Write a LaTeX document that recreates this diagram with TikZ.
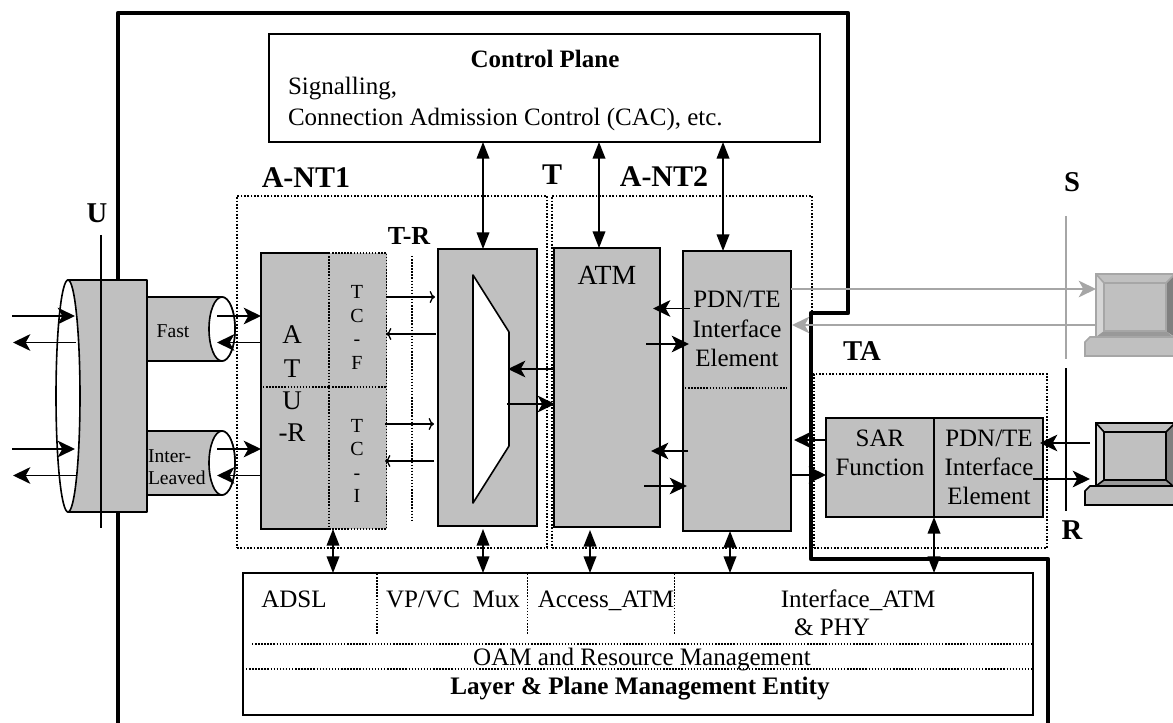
\documentclass[tikz,border=0pt]{standalone}
\usepackage{fontspec}
\setmainfont{Liberation Serif}
\usetikzlibrary{arrows.meta,shapes.geometric}
\definecolor{fillg}{HTML}{C0C0C0}
\definecolor{lineg}{HTML}{A6A6A6}
\newcommand{\pxbox}[6]{\node[#6,anchor=north west,minimum width={(#4-#2)*0.75pt},minimum height={(#5-#3)*0.75pt}] (#1) at (#2,#3) {};}
\newcommand{\fpx}[1]{\fontsize{#1}{#1}\selectfont}
\tikzset{
  base box/.style={inner sep=0pt,outer sep=0pt,line width=1.2pt},
  graybox/.style={base box,draw=black,fill=fillg},
  grayfill/.style={base box,fill=fillg},
  whitebox/.style={base box,draw=black,fill=white},
  dotbox/.style={base box,draw=black,line width=1pt,dash pattern=on 1.2pt off 1.3pt},
  dotline/.style={draw=black,line width=0.9pt,dash pattern=on 1.1pt off 1.2pt},
  thickline/.style={line width=3.2pt,line join=round,line cap=round},
  thin arrow/.style={line width=1.3pt,-{Stealth[length=13pt,width=12.5pt,inset=3.5pt]}},
  small arrow/.style={line width=1.0pt,-{To[length=4pt,width=9pt]}},
  both arrow/.style={line width=1.2pt,{Triangle[length=12.5pt,width=9.5pt]}-{Triangle[length=12.5pt,width=9.5pt]}},
  label/.style={anchor=base,inner sep=0pt,outer sep=0pt,text=black},
  cyl/.style={draw=black,line width=1.2pt,fill=fillg,line join=round},
  ell/.style={draw=black,line width=1.2pt,fill=white},
}
\begin{document}
\begin{tikzpicture}[x=0.75pt,y=-0.75pt]
\useasboundingbox (0,0) rectangle (1173,723);
\clip (0,0) rectangle (1173,723);

% dotted regions
\pxbox{antone}{237}{196}{547}{548}{dotbox}
\pxbox{anttwo}{552}{196}{812}{548}{dotbox}
\pxbox{tabox}{814}{374}{1047}{548}{dotbox}

% outer boundary
\draw[thickline] (118,730) -- (118,13) -- (848,13) -- (848,313) -- (811,313) -- (811,559) -- (1048,559) -- (1048,730);

% control and management
\pxbox{ctrl}{269}{34}{820}{142}{whitebox}
\pxbox{mgmt}{243}{573}{1033}{715}{whitebox}
\coordinate (mv1t) at (377,574); \coordinate (mv1b) at (377,635);
\coordinate (mv2t) at (527.5,574); \coordinate (mv2b) at (527.5,635);
\coordinate (mv3t) at (674.5,574); \coordinate (mv3b) at (674.5,635);
\coordinate (mh1l) at (252,644); \coordinate (mh1r) at (1032,644);
\coordinate (mh2l) at (246,669); \coordinate (mh2r) at (1032,669);
\draw[dotline] (mv1t) -- (mv1b) (mv2t) -- (mv2b) (mv3t) -- (mv3b) (mh1l) -- (mh1r) (mh2l) -- (mh2r);

% big cylinder and feeders
\draw[cyl] (68,280) -- (147,280) -- (147,512) -- (68,512) -- cycle;
\node[ell,ellipse,inner sep=0pt,minimum width=18pt,minimum height=174pt] (bigend) at (68,396) {};
\draw[cyl] (147,297) -- (222,297) arc[start angle=-90,end angle=90,x radius=13,y radius=32] -- (147,361) -- cycle;
\node[ell,ellipse,inner sep=0pt,minimum width=19.5pt,minimum height=48pt] (fastend) at (222,329) {};
\draw[cyl] (147,431) -- (222,431) arc[start angle=-90,end angle=90,x radius=13,y radius=32] -- (147,495) -- cycle;
\node[ell,ellipse,inner sep=0pt,minimum width=19.5pt,minimum height=48pt] (intend) at (222,463) {};
\coordinate (ut) at (101,235); \coordinate (ub) at (101,528);
\draw[line width=0.9pt] (ut) -- (ub);

% functional blocks
\pxbox{atur}{261}{253}{386.5}{529}{grayfill}
\coordinate (av1) at (329,253); \coordinate (av2) at (329,529);
\coordinate (ah1) at (263,387); \coordinate (ah2) at (386,387);
\coordinate (ar1) at (386.5,253); \coordinate (ar2) at (386.5,529);
\draw[line width=1.2pt] (av1) -- (atur.north west) -- (atur.south west) -- (av2);
\draw[dotline,line width=1.3pt] (av1) -- (av2);
\draw[dotline] (ah1) -- (av1 |- ah1);
\draw[dotline,line width=1.3pt] (av1 |- ah1) -- (ah2);
\draw[dotline,line width=1.3pt] (av1) -- (ar1) -- (ar2) -- (av2);
\coordinate (trt) at (412,256); \coordinate (trb) at (412,520);
\draw[dotline] (trt) -- (trb);
\pxbox{mux}{438}{249}{537}{526}{graybox}
\draw[draw=black,fill=white,line width=1.2pt,line join=round] (473,275) -- (509,332) -- (509,446) -- (473,503) -- cycle;
\pxbox{atm}{554}{248}{660}{527}{graybox}
\pxbox{pdn}{683}{251}{791}{531}{graybox}
\coordinate (pl) at (685,388); \coordinate (pr) at (787,388);
\draw[dotline] (pl) -- (pr);
\pxbox{sar}{826}{418}{1043}{517}{graybox}
\coordinate (st) at (934,418); \coordinate (sb) at (934,517);
\draw[line width=2.2pt] (st) -- (sb);

% interface lines
\coordinate (slt) at (1066,216); \coordinate (slb) at (1066,359);
\coordinate (rlt) at (1066,368); \coordinate (rlb) at (1066,511);
\draw[lineg,line width=1.3pt] (slt) -- (slb);
\draw[line width=1.3pt] (rlt) -- (rlb);

% gray computer
\begin{scope}[line width=1.2pt,draw=lineg]
\fill[fillg] (1096,274) rectangle (1185,337);
\fill[white!84!black] (1096,274) -- (1104,283) -- (1104,331) -- (1096,337) -- cycle;
\fill[black!40] (1096,337) -- (1104,331) -- (1166,331) -- (1173,337) -- cycle;
\fill[black!50] (1166,283) -- (1175,274) -- (1175,337) -- (1166,331) -- cycle;
\draw (1096,337) -- (1096,274) -- (1185,274);
\draw (1104,283) rectangle (1166,331);
\draw (1096,274) -- (1104,283);
\draw (1166,283) -- (1175,274);
\path[draw,fill=fillg] (1085,356) -- (1085,342) -- (1090,337) -- (1185,337) -- (1185,356) -- cycle;
\coordinate (gcomp) at (1096,289);
\coordinate (gcompb) at (1096,325);
\end{scope}

% black computer
\begin{scope}[line width=1.2pt,draw=black]
\fill[fillg] (1096,423) rectangle (1185,486);
\fill[white!84!black] (1096,423) -- (1104,432) -- (1104,480) -- (1096,486) -- cycle;
\fill[black!40] (1096,486) -- (1104,480) -- (1166,480) -- (1173,486) -- cycle;
\fill[black!50] (1166,432) -- (1175,423) -- (1175,486) -- (1166,480) -- cycle;
\draw (1096,486) -- (1096,423) -- (1185,423);
\draw (1104,432) rectangle (1166,480);
\draw (1096,423) -- (1104,432);
\draw (1166,432) -- (1175,423);
\draw (1096,486) -- (1104,480);
\draw (1173,486) -- (1166,480);
\path[draw,fill=fillg] (1085,505) -- (1085,491) -- (1090,486) -- (1185,486) -- (1185,505) -- cycle;
\end{scope}

% arrow end points
\coordinate (la1) at (12,316); \coordinate (la1e) at (75,316);
\coordinate (la2) at (76,342.5); \coordinate (la2e) at (13,342.5);
\coordinate (la3) at (12,449); \coordinate (la3e) at (75,449);
\coordinate (la4) at (76,475.5); \coordinate (la4e) at (13,475.5);
\coordinate (fa1) at (217,316); \coordinate (fa1e) at (261,316);
\coordinate (fa2) at (261,342.5); \coordinate (fa2e) at (217,342.5);
\coordinate (fa3) at (217,449); \coordinate (fa3e) at (261,449);
\coordinate (fa4) at (261,475.5); \coordinate (fa4e) at (217,475.5);
\coordinate (ta1) at (386,297); \coordinate (ta1e) at (435,297);
\coordinate (ta2) at (436,334); \coordinate (ta2e) at (386,334);
\coordinate (ta3) at (385,424); \coordinate (ta3e) at (434,424);
\coordinate (ta4) at (434,461); \coordinate (ta4e) at (385,461);
\coordinate (ma1) at (554,369); \coordinate (ma1e) at (508,369);
\coordinate (ma2) at (507,404); \coordinate (ma2e) at (555,404);
\coordinate (pa1) at (690,308.5); \coordinate (pa1e) at (653,308.5);
\coordinate (pa2) at (646,344); \coordinate (pa2e) at (689,344);
\coordinate (pa3) at (688,451); \coordinate (pa3e) at (651,451);
\coordinate (pa4) at (644,486); \coordinate (pa4e) at (687,486);
\coordinate (sa1) at (826,440); \coordinate (sa1e) at (794,440);
\coordinate (sa2) at (791,475); \coordinate (sa2e) at (826,475);
\coordinate (ra1) at (1090,443); \coordinate (ra1e) at (1040,443);
\coordinate (ra2) at (1033,479); \coordinate (ra2e) at (1090,479);
\coordinate (ga1) at (791,289); \coordinate (ga2e) at (792,325);
\coordinate (cx1) at (483,0); \coordinate (cx2) at (599,0); \coordinate (cx3) at (723,0);
\coordinate (bx1) at (333,0); \coordinate (bx2) at (483,0); \coordinate (bx3) at (590,0); \coordinate (bx4) at (730,0); \coordinate (bx5) at (934,0);

\draw[thin arrow] (la1) -- (la1e);
\draw[thin arrow] (la2) -- (la2e);
\draw[thin arrow] (la3) -- (la3e);
\draw[thin arrow] (la4) -- (la4e);
\draw[thin arrow] (fa1) -- (fa1e);
\draw[thin arrow] (fa2) -- (fa2e);
\draw[thin arrow] (fa3) -- (fa3e);
\draw[thin arrow] (fa4) -- (fa4e);
\draw[small arrow] (ta1) -- (ta1e);
\draw[small arrow] (ta2) -- (ta2e);
\draw[small arrow] (ta3) -- (ta3e);
\draw[small arrow] (ta4) -- (ta4e);
\draw[thin arrow] (ma1) -- (ma1e);
\draw[thin arrow] (ma2) -- (ma2e);
\draw[thin arrow] (pa1) -- (pa1e);
\draw[thin arrow] (pa2) -- (pa2e);
\draw[thin arrow] (pa3) -- (pa3e);
\draw[thin arrow] (pa4) -- (pa4e);
\draw[thin arrow] (sa1) -- (sa1e);
\draw[thin arrow] (sa2) -- (sa2e);
\draw[thin arrow] (ra1) -- (ra1e);
\draw[thin arrow] (ra2) -- (ra2e);
\draw[thin arrow,draw=lineg,fill=lineg,line width=1.3pt] (ga1) -- (gcomp);
\draw[thin arrow,draw=lineg,fill=lineg,line width=1.3pt] (gcompb) -- (ga2e);

\draw[both arrow] (ctrl.south -| cx1) -- (mux.north -| cx1);
\draw[both arrow] (ctrl.south -| cx2) -- (atm.north -| cx2);
\draw[both arrow] (ctrl.south -| cx3) -- (pdn.north -| cx3);
\draw[both arrow] (atur.south -| bx1) -- (mgmt.north -| bx1);
\draw[both arrow] (mux.south -| bx2) ++(0,3) -- (mgmt.north -| bx2);
\draw[both arrow] (atm.south -| bx3) ++(0,3) -- (mgmt.north -| bx3);
\draw[both arrow] (pdn.south -| bx4) -- (mgmt.north -| bx4);
\draw[both arrow] (sar.south -| bx5) -- (mgmt.north -| bx5);

% text
\node[label,font=\fpx{18.75}\bfseries] (tctrl) at (545,68) {Control Plane};
\node[label,font=\fpx{18.75},anchor=base west] (tsig) at (288,95) {Signalling,};
\node[label,font=\fpx{18.75},anchor=base west] (tcac) at (288,126) {Connection Admission Control (CAC), etc.};
\node[label,font=\fpx{22.5}\bfseries] (tant1) at (306,188) {A-NT1};
\node[label,font=\fpx{22.5}\bfseries] (tT) at (552,185) {T};
\node[label,font=\fpx{22.5}\bfseries] (tant2) at (664,187) {A-NT2};
\node[label,font=\fpx{21.5}\bfseries] (tU) at (97,223) {U};
\node[label,font=\fpx{19.5}\bfseries] (ttr) at (409,245) {T-R};
\node[label,font=\fpx{21.5}\bfseries] (tS) at (1072,192) {S};
\node[label,font=\fpx{21.5}\bfseries] (tTA) at (862,360) {TA};
\node[label,font=\fpx{21.5}\bfseries] (tR) at (1072,539) {R};
\node[label,font=\fpx{14.7}] (tfast) at (173,337) {Fast};
\node[label,font=\fpx{14.7},anchor=base west] (tinter) at (148,462) {Inter-};
\node[label,font=\fpx{14.7},anchor=base west] (tleaved) at (148,484) {Leaved};
\node[label,font=\fpx{20.25}] (a1) at (292,343) {A};
\node[label,font=\fpx{20.25}] (a2) at (292,377) {T};
\node[label,font=\fpx{20.25}] (a3) at (292,409) {U};
\node[label,font=\fpx{20.25}] (a4) at (292,441) {-R};
\node[label,font=\fpx{15}] (f1) at (357,299) {T};
\node[label,font=\fpx{15}] (f2) at (357,323) {C};
\node[label,font=\fpx{15}] (f3) at (357,345) {-};
\node[label,font=\fpx{15}] (f4) at (357,369) {F};
\node[label,font=\fpx{15}] (i1) at (357,432) {T};
\node[label,font=\fpx{15}] (i2) at (357,455) {C};
\node[label,font=\fpx{15}] (i3) at (357,479) {-};
\node[label,font=\fpx{15}] (i4) at (357,502) {I};
\node[label,font=\fpx{20.8}] (tatm) at (607,285) {ATM};
\node[label,font=\fpx{18.75}] (p1) at (737,308) {PDN/TE};
\node[label,font=\fpx{18.75}] (p2) at (737,337) {Interface};
\node[label,font=\fpx{18.75}] (p3) at (737,366) {Element};
\node[label,font=\fpx{18.75}] (s1) at (880,446) {SAR};
\node[label,font=\fpx{18.75}] (s2) at (880,475) {Function};
\node[label,font=\fpx{18.75}] (q1) at (989,446) {PDN/TE};
\node[label,font=\fpx{18.75}] (q2) at (989,475) {Interface};
\node[label,font=\fpx{18.75}] (q3) at (989,504) {Element};
\node[label,font=\fpx{18.8}] (madsl) at (294,607) {ADSL};
\node[label,font=\fpx{18.8}] (mvp) at (453,607) {VP/VC\ \ Mux};
\node[label,font=\fpx{18.8}] (macc) at (606,607) {Access\_ATM};
\node[label,font=\fpx{18.8}] (mint) at (858,607) {Interface\_ATM};
\node[label,font=\fpx{18.8}] (mphy) at (832,635) {\& PHY};
\node[label,font=\fpx{18.8}] (moam) at (642,665) {OAM and Resource Management};
\node[label,font=\fpx{18.9}\bfseries] (mlay) at (640,694) {Layer \& Plane Management Entity};
\end{tikzpicture}
\end{document}
